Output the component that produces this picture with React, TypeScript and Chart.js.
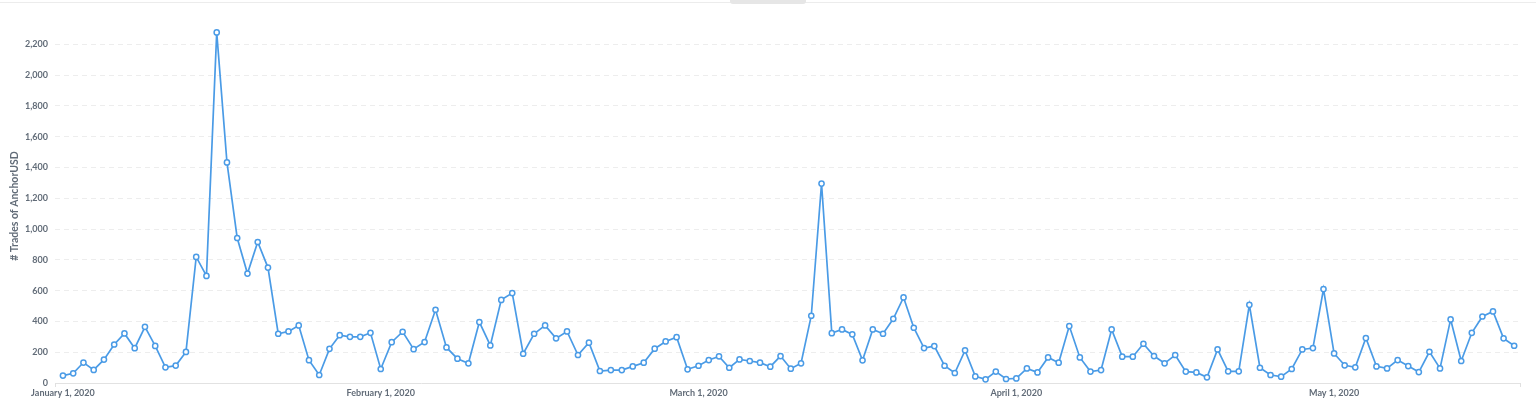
import React, { useEffect, useRef } from "react";
import { Chart, registerables } from "chart.js";

Chart.register(...registerables);

const monthLabels = ["January 1, 2020", "February 1, 2020", "March 1, 2020", "April 1, 2020", "May 1, 2020"];
const monthSpans = [31, 29, 31, 30, 30];

const janValues = [48, 63, 133, 85, 152, 250, 322, 226, 365, 241, 102, 113, 202, 819, 696, 2278, 1433, 942, 711, 916, 750, 320, 335, 374, 148, 52, 222, 311, 300, 300, 326];
const febValues = [91, 265, 333, 220, 266, 476, 231, 158, 128, 396, 244, 540, 584, 190, 320, 374, 290, 335, 182, 262, 78, 84, 84, 108, 132, 223, 270, 298, 89];
const marValues = [112, 149, 173, 99, 153, 143, 132, 106, 175, 93, 128, 437, 1296, 324, 348, 316, 147, 348, 320, 417, 556, 359, 227, 240, 112, 65, 212, 43, 24, 74, 26];
const aprValues = [30, 95, 69, 166, 132, 370, 166, 74, 84, 348, 171, 171, 255, 175, 128, 182, 74, 69, 37, 218, 76, 76, 508, 99, 52, 41, 91, 218, 227, 610];
const mayValues = [192, 115, 102, 292, 108, 95, 149, 110, 71, 203, 95, 413, 143, 326, 432, 465, 290, 242];

const monthlySeries = [janValues, febValues, marValues, aprValues, mayValues];

const yAxisTitle = "# Trades of AnchorUSD";
const TEXT = "#626c78";
const BLUE = "#4a9be6";

const axisEndTicks = {
  id: "axisEndTicks",
  afterDraw(chart: any) {
    const { ctx, chartArea } = chart;
    ctx.save();
    ctx.strokeStyle = "#e0e0e0";
    ctx.lineWidth = 1;
    [chartArea.left, chartArea.right].forEach((x: number) => {
      const px = Math.round(x) + 0.5;
      ctx.beginPath();
      ctx.moveTo(px, chartArea.bottom);
      ctx.lineTo(px, chartArea.bottom + 4);
      ctx.stroke();
    });
    ctx.restore();
  },
};

export default function App() {
  const ref = useRef<HTMLCanvasElement | null>(null);

  useEffect(() => {
    if (!ref.current) return;
    const points = monthlySeries.flatMap((vals, m) =>
      vals.map((v, i) => ({ x: m + i / monthSpans[m], y: v }))
    );
    const font = { family: "Lato", size: 9, weight: "bold" as const };
    const chart = new Chart(ref.current, {
      type: "line",
      data: {
        datasets: [
          {
            data: points,
            borderColor: BLUE,
            borderWidth: 1.7,
            backgroundColor: "#ffffff",
            pointBackgroundColor: "#ffffff",
            pointBorderColor: BLUE,
            pointBorderWidth: 1.5,
            pointRadius: 2.6,
            tension: 0,
            fill: false,
          },
        ],
      },
      options: {
        animation: false,
        responsive: false,
        maintainAspectRatio: false,
        layout: { padding: { top: 29, right: 16, left: 0, bottom: 0 } },
        plugins: { legend: { display: false }, tooltip: { enabled: false } },
        scales: {
          x: {
            type: "linear",
            min: -0.025,
            max: 4.585,
            afterFit: (s: any) => {
              s.height = 22;
            },
            afterBuildTicks: (s: any) => {
              s.ticks = monthLabels.map((_, i) => ({ value: i }));
            },
            grid: { display: false, drawTicks: false },
            border: { display: true, color: "#e2e2e2", width: 1 },
            ticks: {
              padding: 5,
              autoSkip: false,
              maxRotation: 0,
              color: TEXT,
              font,
              callback: (v: any) => monthLabels[Math.round(Number(v))] ?? "",
            },
          },
          y: {
            min: 0,
            max: 2300,
            afterFit: (s: any) => {
              s.width = 55;
            },
            ticks: {
              stepSize: 200,
              includeBounds: false,
              padding: 7,
              color: TEXT,
              font,
            },
            grid: { color: "#ededed", drawTicks: false, lineWidth: 1 },
            border: { display: false, dash: [5, 4] },
            title: {
              display: true,
              text: yAxisTitle,
              color: TEXT,
              font: { family: "Lato", size: 10.5, weight: "bold" },
              padding: { top: 8, bottom: 0 },
            },
          },
        },
      },
      plugins: [axisEndTicks],
    });
    return () => chart.destroy();
  }, []);

  return (
    <div style={{ position: "absolute", left: 0, top: 0, width: 1536, height: 405, background: "#fff" }}>
      <div style={{ position: "absolute", left: 0, top: 2, width: 1536, height: 1, background: "#ececec" }} />
      <div
        style={{
          position: "absolute",
          left: 730,
          top: 0,
          width: 76,
          height: 4,
          background: "#e6e6e6",
          borderRadius: "0 0 3px 3px",
        }}
      />
      <canvas ref={ref} width={1536} height={405} style={{ position: "absolute", left: 0, top: 0 }} />
    </div>
  );
}
